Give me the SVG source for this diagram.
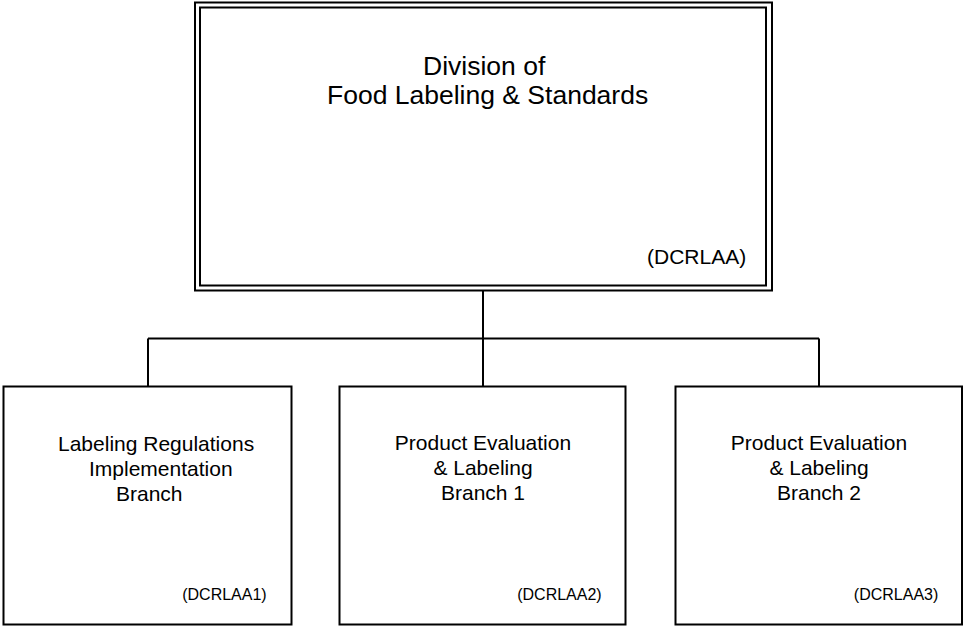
<svg xmlns="http://www.w3.org/2000/svg" width="963" height="626" viewBox="0 0 963 626">
<style>
.box{fill:#fff;stroke:#000;stroke-width:2}
.ln{fill:none;stroke:#000;stroke-width:2}
text{font-family:"Liberation Sans",Arial,sans-serif;fill:#000}
.t1{font-size:26.5px}
.t2{font-size:21px}
.t3{font-size:16px}
</style>
<rect width="963" height="626" fill="#fff"/>
<g id="connectors">
<path class="ln" d="M483 290.5V386.5M148 338.5H819M148 338.5V386.5M819 338.5V386.5"/>
</g>
<g id="division">
<rect class="box" x="195" y="2.5" width="577" height="288"/>
<rect class="box" x="200" y="7.5" width="566" height="278"/>
<text class="t1" x="423" y="75">Division of</text>
<text class="t1" x="327" y="104">Food Labeling &amp; Standards</text>
<text class="t2" x="647" y="264">(DCRLAA)</text>
</g>
<g id="branch-lri">
<rect class="box" x="3.5" y="386.5" width="288" height="238"/>
<text class="t2" x="58" y="450.7">Labeling Regulations</text>
<text class="t2" x="89" y="475.7">Implementation</text>
<text class="t2" x="116" y="500.7">Branch</text>
<text class="t3" x="266.7" y="600" text-anchor="end">(DCRLAA1)</text>
</g>
<g id="branch-pel1">
<rect class="box" x="339.5" y="386.5" width="286" height="238"/>
<text class="t2" x="483" y="450" text-anchor="middle">Product Evaluation</text>
<text class="t2" x="483" y="475" text-anchor="middle">&amp; Labeling</text>
<text class="t2" x="483" y="500" text-anchor="middle">Branch 1</text>
<text class="t3" x="601.7" y="600" text-anchor="end">(DCRLAA2)</text>
</g>
<g id="branch-pel2">
<rect class="box" x="675.5" y="386.5" width="286.5" height="238"/>
<text class="t2" x="819" y="450" text-anchor="middle">Product Evaluation</text>
<text class="t2" x="819" y="475" text-anchor="middle">&amp; Labeling</text>
<text class="t2" x="819" y="500" text-anchor="middle">Branch 2</text>
<text class="t3" x="938.3" y="600" text-anchor="end">(DCRLAA3)</text>
</g>
</svg>
